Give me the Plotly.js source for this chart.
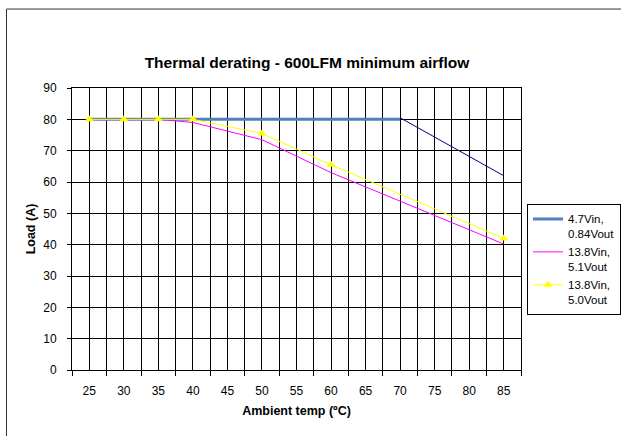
<!DOCTYPE html>
<html>
<head>
<meta charset="utf-8">
<script src="https://cdn.plot.ly/plotly-3.0.1.min.js"></script>
<style>html,body{margin:0;padding:0;background:#fff;}#chart{width:621px;height:436px;}</style>
</head>
<body>
<div id="chart"></div>
<script>
// Data
const blueX = [25, 30, 35, 40, 45, 50, 55, 60, 65, 70];
const blueY = [80, 80, 80, 80, 80, 80, 80, 80, 80, 80];
const navyX = [70, 85];
const navyY = [80.5, 62];
const magX = [25, 30, 35, 40, 50, 60, 85];
const magY = [80, 80, 80, 79, 73.5, 63, 40.2];
const yelX = [25, 30, 35, 40, 50, 60, 85];
const yelY = [80, 80, 80, 80, 75.5, 65.5, 42];
const xTicks = [25, 30, 35, 40, 45, 50, 55, 60, 65, 70, 75, 80, 85];
const names = ['4.7Vin,<br>0.84Vout', '13.8Vin,<br>5.1Vout', '13.8Vin,<br>5.0Vout'];

const FONT = 'Liberation Sans, Arial, sans-serif';

const traces = [
  {x: blueX, y: blueY, name: names[0], mode: 'lines', line: {color: '#4f81bd', width: 3}},
  {x: magX, y: magY, name: names[1], mode: 'lines', line: {color: '#ff00ff', width: 1}},
  {x: yelX, y: yelY, name: names[2], mode: 'lines+markers', line: {color: '#ffff00', width: 1},
   marker: {symbol: 'triangle-up', size: 8, color: '#ffff00'}},
  {x: navyX, y: navyY, name: 'navy', mode: 'lines', line: {color: '#000080', width: 1}, showlegend: false}
];

const layout = {
  width: 621, height: 436,
  margin: {l: 72, r: 100, t: 88, b: 66},
  paper_bgcolor: '#fff', plot_bgcolor: '#fff',
  font: {family: FONT, size: 12, color: '#000'},
  showlegend: true,
  title: {text: '<b>Thermal derating - 600LFM minimum airflow</b>', font: {family: FONT, size: 15.5, color: '#000'},
          xref: 'paper', x: (307 - 72) / 449, xanchor: 'center', y: 1 - 63 / 436, yanchor: 'middle'},
  xaxis: {
    range: [22.5, 87.5], tickmode: 'array', tickvals: xTicks, ticktext: xTicks.map(String),
    showgrid: true, gridcolor: '#000', gridwidth: 1, ticks: '', zeroline: false,
    showline: true, linecolor: '#000', linewidth: 1, mirror: true, ticklabelstandoff: 10,
    tickfont: {family: FONT, size: 12, color: '#000'},
    minor: {tick0: 22.5, dtick: 5, showgrid: true, gridcolor: '#000', gridwidth: 1, ticks: 'outside', ticklen: 5, tickcolor: '#000'},
    title: {text: '<b>Ambient temp (ºC)</b>', font: {family: FONT, size: 12.5, color: '#000'}, standoff: 8}
  },
  yaxis: {
    range: [0, 90], dtick: 10, tick0: 0,
    showgrid: true, gridcolor: '#000', gridwidth: 1, zeroline: false,
    ticks: 'outside', ticklen: 4, tickcolor: '#000', ticklabelstandoff: 8,
    showline: true, linecolor: '#000', linewidth: 1, mirror: true,
    tickfont: {family: FONT, size: 12, color: '#000'},
    title: {text: '<b>Load (A)</b>', font: {family: FONT, size: 12.5, color: '#000'}, standoff: 4}
  },
  legend: {
    xref: 'container', yref: 'container',
    x: 527 / 621, xanchor: 'left', y: 1 - 204 / 436, yanchor: 'top', valign: 'top',
    bgcolor: '#fff', bordercolor: '#000', borderwidth: 1,
    font: {family: FONT, size: 11.5, color: '#000'},
    tracegroupgap: 0, itemwidth: 30
  },
  shapes: [
    {type: 'rect', xref: 'paper', yref: 'paper', x0: -0.1459, x1: 2, y0: -1, y1: 1.28,
     line: {color: '#333', width: 1}, fillcolor: 'rgba(0,0,0,0)', layer: 'below'}
  ]
};

Plotly.newPlot('chart', traces, layout, {displayModeBar: false, staticPlot: true});
</script>
</body>
</html>
